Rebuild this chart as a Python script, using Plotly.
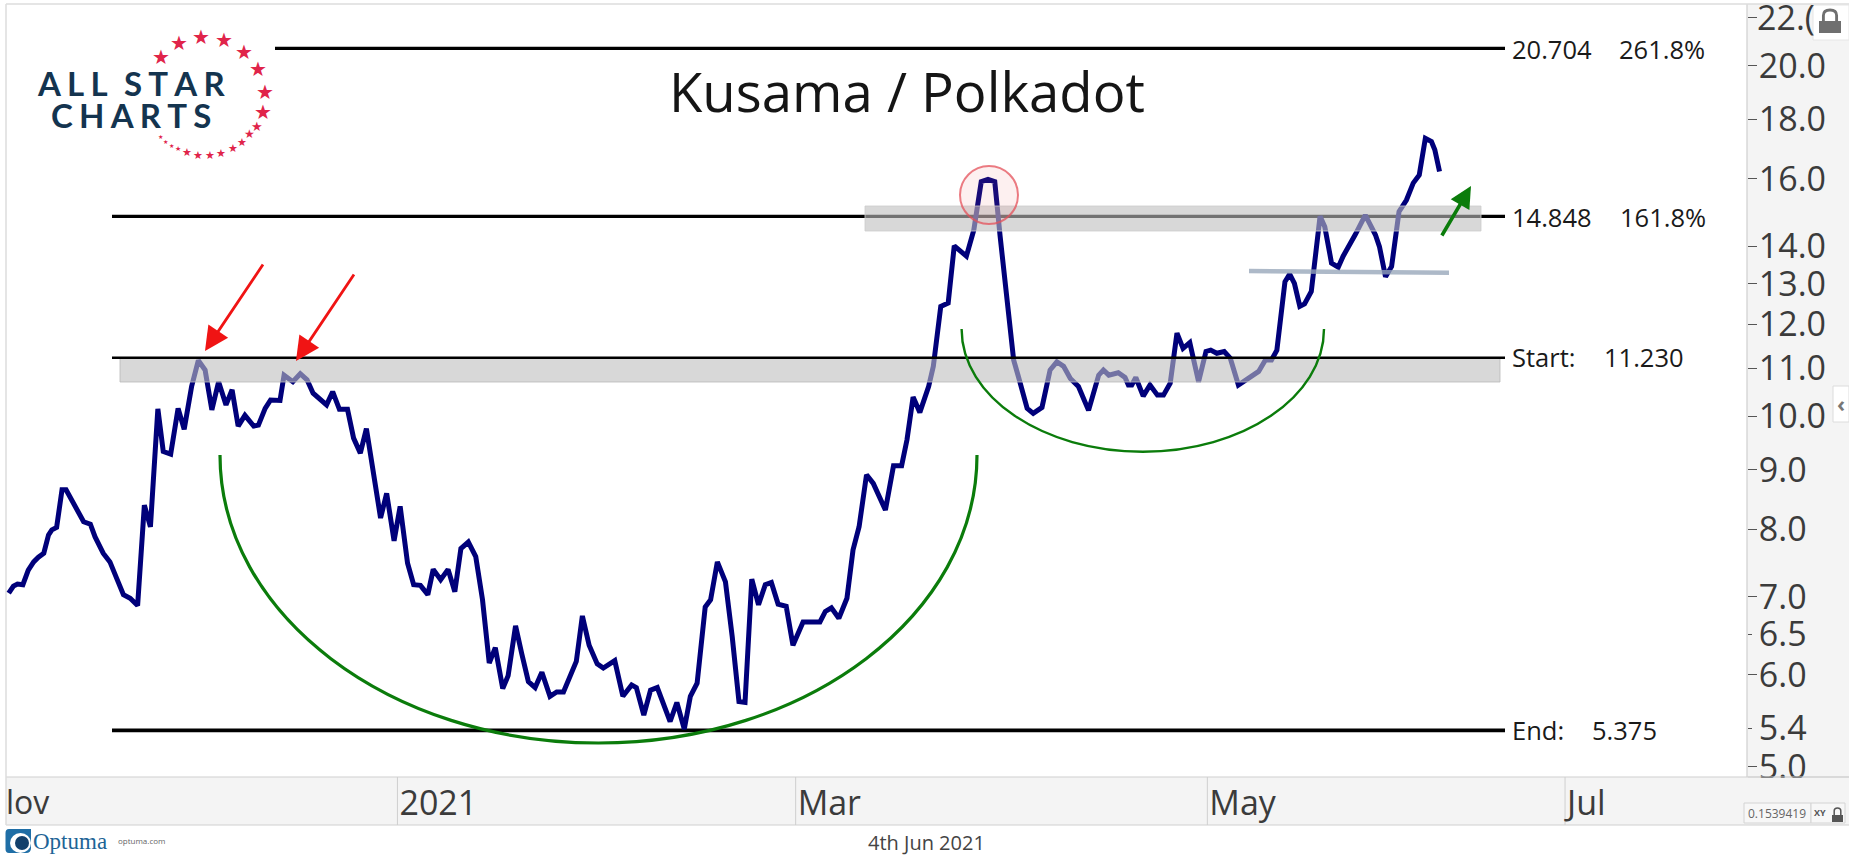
import pandas as pd
import plotly.graph_objects as go

# ---------- data ----------
DAY_OFFSET = [  # days from 1 Jan 2021
 -57.6,-56.9,-56.3,-55.5,-54.7,-53.9,-53.2,-52.4,-51.7,-51.2,-50.5,-49.7,-49.1,-48.3,-47.3,-46.5,-45.5,-44.8,-43.6,-42.6,-41.6,-40.6,-39.6,-38.5,-37.5,-36.6,-35.5,-34.7,-33.6,-32.5,-31.6,-30.5,-29.5,-28.5,-27.5,-26.5,-25.4,-24.5,-23.6,-22.6,-21.3,
 -20.6,-19.6,-18.8,-17.4,-16.8,-15.5,-14.4,-13.4,-12.5,-10.5,-9.6,-8.6,-7.4,-6.5,-5.5,-4.6,-3.5,-2.5,-1.6,-0.5,0.4,1.5,2.4,3.4,4.5,5.3,6.4,7.5,8.5,9.4,10.5,11.6,12.6,13.6,14.5,15.6,
 16.4,17.5,18.4,19.4,20.4,21.4,22.6,23.6,24.6,25.6,26.5,27.4,28.4,29.6,30.5,32.2,33.4,34.7,35.4,36.5,37.5,38.5,40.4,41.4,42.5,43.4,44.4,45.6,46.4,47.4,48.6,49.6,50.6,51.5,52.5,53.5,54.5,55.4,
 56.4,57.6,58.6,60.1,61.6,62.6,63.4,64.3,65.4,66.6,67.5,68.4,69.5,70.5,72.3,73.5,74.7,75.5,76.4,77.4,78.7,79.4,80.5,81.6,82.5,84.3,85.4,86.5,87.5,88.5,89.3,89.8,90.5,91.3,92.0,
 93.3,94.2,95.5,96.7,97.7,98.7,99.7,100.9,102.4,103.9,104.6,105.4,106.8,107.8,108.3,108.8,109.4,110.5,111.5,112.6,113.5,114.5,115.5,116.4,117.4,118.7,119.8,120.5,121.4,122.5,123.4,124.6,127.6,128.6,129.5,
 130.3,131.5,132.2,132.9,133.7,134.4,135.4,136.7,137.4,138.4,139.4,140.1,141.9,143.4,144.9,145.5,146.4,147.3,148.4,149.5,150.5,151.4,152.3,153.2,153.7,154.4]
RATIO = [
 7.05,7.15,7.18,7.17,7.38,7.5,7.57,7.63,7.91,7.99,8.03,8.65,8.65,8.49,8.28,8.12,8.08,7.88,7.63,7.5,7.26,7.03,6.98,6.88,8.39,8.04,10.15,9.33,9.28,10.16,9.75,10.61,11.17,10.96,10.13,10.71,10.23,10.54,9.81,10.02,9.81,
 9.83,10.16,10.33,10.32,10.85,10.71,10.88,10.75,10.47,10.23,10.5,10.14,10.14,9.58,9.3,9.76,8.94,8.18,8.59,7.82,8.37,7.48,7.17,7.16,7.03,7.39,7.24,7.39,7.07,7.7,7.8,7.58,6.96,6.14,6.33,5.84,
 5.99,6.61,6.26,5.92,5.85,6.03,5.75,5.8,5.8,5.98,6.16,6.74,6.36,6.13,6.08,6.17,5.75,5.88,5.85,5.54,5.82,5.85,5.47,5.68,5.39,5.75,5.9,6.86,6.96,7.5,7.21,6.47,5.69,5.68,7.25,6.89,7.17,7.2,
 6.9,6.87,6.36,6.66,6.66,6.66,6.8,6.85,6.71,6.98,7.68,8.04,8.91,8.76,8.31,9.07,9.07,9.55,10.39,10.08,10.61,11.04,12.43,12.51,14.01,13.73,14.46,15.91,15.98,15.91,14.27,13.36,12.43,11.18,10.82,
 10.16,10.06,10.18,10.96,11.14,11.04,10.78,10.61,10.12,10.85,10.96,10.85,10.9,10.8,10.64,10.64,10.8,10.41,10.64,10.43,10.43,10.68,11.79,11.44,11.57,10.71,11.37,11.4,11.33,11.37,11.22,10.64,10.93,11.18,11.18,
 11.4,13.05,13.25,13.01,12.43,12.49,12.8,14.85,14.55,13.54,13.43,13.72,14.32,14.89,14.32,13.99,13.18,13.45,14.99,15.34,15.86,16.12,17.33,17.22,16.94,16.23]
assert len(DAY_OFFSET) == len(RATIO)

Y_TICKS = [22, 20, 18, 16, 14, 13, 12, 11, 10, 9, 8, 7, 6.5, 6, 5.4, 5]
Y_SHORT = [6.5, 5.4]
X_TICKS = ["2021-01-01", "2021-03-01", "2021-05-01", "2021-07-01"]
X_LABELS = ["2021", "Mar", "May", "Jul"]
LEVEL_VALUES = [20.704, 14.848, 11.23, 5.375]
LEVEL_TEXT = ["20.704", "14.848", "Start:", "End:"]
LEVEL_TEXT2 = ["261.8%", "161.8%", "11.230", "5.375"]

# ---------- page geometry ----------
W, H = 1849, 855
L, R, T, B = 6, 1747, 4, 777
def px(x): return (x - L) / (R - L)
def py(y): return (B - y) / (B - T)

dates = pd.Timestamp("2021-01-01") + pd.to_timedelta(DAY_OFFSET, unit="D")
weekend = [d.strftime("%Y-%m-%d") for d in pd.date_range("2021-06-05", "2021-08-08") if d.weekday() >= 5]

NAVY = "#00007a"
GREEN = "#0b7c0b"
BAND = "#f4f4f4"
EDGE = "#cfcfcf"
TXT = "#3b3b3b"
FONT = "Open Sans"

shapes = []
def rect(x0, y0, x1, y1, fill, line=None, lw=1, layer="below"):
    shapes.append(dict(type="rect", xref="paper", yref="paper", x0=px(x0), x1=px(x1), y0=py(y0), y1=py(y1),
                       fillcolor=fill, line=dict(color=line or "rgba(0,0,0,0)", width=lw if line else 0), layer=layer))
def seg(x0, y0, x1, y1, color, lw=1, layer="below"):
    shapes.append(dict(type="line", xref="paper", yref="paper", x0=px(x0), x1=px(x1), y0=py(y0), y1=py(y1),
                       line=dict(color=color, width=lw), layer=layer))
def path(d, fill="rgba(0,0,0,0)", line=None, lw=0, layer="above"):
    shapes.append(dict(type="path", xref="paper", yref="paper", path=d, fillcolor=fill,
                       line=dict(color=line or "rgba(0,0,0,0)", width=lw), layer=layer))
def P(x, y): return f"{px(x):.6f} {py(y):.6f}"
def half_ellipse(x0, x1, ytop, ybot):
    k = 0.5523
    a = (x1 - x0) / 2; b = ybot - ytop; c = (x0 + x1) / 2
    return (f"M {P(x0,ytop)} C {P(x0,ytop+k*b)} {P(c-k*a,ybot)} {P(c,ybot)} "
            f"C {P(c+k*a,ybot)} {P(x1,ytop+k*b)} {P(x1,ytop)}")
def lock(x0, x1, ybody0, ybody1, ytop, color):
    w = x1 - x0; m = w * 0.2
    rect(x0, ybody0, x1, ybody1, color, layer="above")
    path(f"M {P(x0+m,ybody0)} L {P(x0+m,ytop+w*0.25)} Q {P(x0+m,ytop)} {P((x0+x1)/2,ytop)} "
         f"Q {P(x1-m,ytop)} {P(x1-m,ytop+w*0.25)} L {P(x1-m,ybody0)}", line=color, lw=max(1.5, w*0.13))

# axis bands and frame
rect(L, B, W, 825, BAND)
rect(R, T, W, 825, BAND)
seg(R, T, R, B, EDGE, 1.2)
seg(L, B, W, B, EDGE, 1.2)
seg(L, 825, W, 825, EDGE, 1.2)
seg(L, T, L, 825, "#dcdcdc", 1.5)
seg(L, T, W, T, "#dcdcdc", 1.5)
for t in X_TICKS:
    shapes.append(dict(type="line", xref="x", yref="paper", x0=t, x1=t, y0=0, y1=py(825),
                       line=dict(color=EDGE, width=1), layer="below"))

# fibonacci levels
LEVEL_LEFT = [275, 112, 112, 112]
LEVEL_WIDTH = [3.3, 3.3, 2.6, 3.6]
LEVEL_LAYER = ["below", "below", "above", "below"]
ZONE = "rgba(190,190,190,0.6)"
rect(120, 358.5, 1500, 382, ZONE, "rgba(185,185,185,0.8)", 1, "above")
rect(865, 206, 1481, 231, ZONE, "rgba(205,205,205,0.8)", 1, "above")
for v, x0, lw, lay in zip(LEVEL_VALUES, LEVEL_LEFT, LEVEL_WIDTH, LEVEL_LAYER):
    shapes.append(dict(type="line", xref="paper", yref="y", x0=px(x0), x1=px(1505), y0=v, y1=v,
                       line=dict(color="#000000", width=lw), layer=lay))

# marks
seg(1249, 271, 1449, 272.8, "rgba(150,165,185,0.78)", 4.5, "above")
shapes.append(dict(type="circle", xref="paper", yref="paper", x0=px(960), x1=px(1018), y0=py(166), y1=py(224),
                   fillcolor="rgba(240,110,110,0.10)", line=dict(color="rgba(228,80,90,0.75)", width=2), layer="above"))
path(half_ellipse(220, 977, 455, 743), line=GREEN, lw=3.2)
path(half_ellipse(961.6, 1324, 329, 451.7), line=GREEN, lw=2.4)

# covers for text clipped in the reference
rect(R + 1, B + 1, W, B + 7, BAND, layer="above")
seg(R + 1, B, W, B, EDGE, 1.2, "above")

# lock box top right
rect(1813, 5, W, 40, "#ffffff", "#e6e6e6", 1, "above")
lock(1819, 1841, 21, 33, 10, "#6f6f6f")
# collapse button
rect(1833, 386, W, 422, "#ffffff", "#dcdcdc", 1, "above")
# value box bottom right
rect(1744, 803, 1811, 823, "#f7f7f7", "#d4d4d4", 1, "above")
rect(1811, 803, 1845, 823, "#f7f7f7", "#d4d4d4", 1, "above")
lock(1832, 1843, 815, 822, 808, "#555555")

# Optuma icon
path(f"M {P(9,829)} L {P(31,829)} L {P(31,848)} Q {P(31,853)} {P(26,853)} L {P(9,853)} Q {P(5.5,853)} {P(5.5,849)} L {P(5.5,833)} Q {P(5.5,829)} {P(9,829)} Z",
     fill="#1f6ea6")
shapes.append(dict(type="circle", xref="paper", yref="paper", x0=px(10), x1=px(31), y0=py(833), y1=py(853),
                   fillcolor="#ffffff", line=dict(width=0), layer="above"))
shapes.append(dict(type="circle", xref="paper", yref="paper", x0=px(15), x1=px(29), y0=py(836), y1=py(850),
                   fillcolor="#13406b", line=dict(width=0), layer="above"))

ann = []
def text(x, y, s, size, color=TXT, anchor="left", family=FONT, yanchor="middle"):
    ann.append(dict(xref="paper", yref="paper", x=px(x), y=py(y), text=s, showarrow=False, xanchor=anchor, yanchor=yanchor,
                    font=dict(family=family, size=size, color=color), borderpad=0, borderwidth=0))
def arrow(tx, ty, hx, hy, color, lw, size):
    ann.append(dict(xref="paper", yref="paper", x=px(hx), y=py(hy), ax=tx - hx, ay=ty - hy, axref="pixel", ayref="pixel",
                    text="", showarrow=True, arrowhead=2, arrowsize=size, arrowwidth=lw, arrowcolor=color, standoff=0))

text(907, 91, "Kusama / Polkadot", 54.5, "#151515", "center")
text(926, 842, "4th Jun 2021", 20, "#444444", "center")
text(6, 801, "lov", 32)
text(1757, 17, "22.(", 34)   # the top tick label, cut by the lock box as in the reference
LEVEL_Y = [48.7, 216.7, 357, 730]
LEVEL_X2 = [1619, 1620, 1604, 1592]
for y, a, b, x2 in zip(LEVEL_Y, LEVEL_TEXT, LEVEL_TEXT2, LEVEL_X2):
    text(1512, y, a, 25.5, "#1a1a1a")
    text(x2, y, b, 25.5, "#1a1a1a")

arrow(264, 263, 205, 351, "#f01414", 2.8, 1.7)
arrow(355, 273, 296, 361, "#f01414", 2.8, 1.7)
arrow(1441, 237, 1471, 186, GREEN, 3.6, 1.2)

# logo
NB = "\u2009\u200a"
text(131, 83, NB.join("ALL") + "\u2002" + NB.join("STAR"), 33, "#14344f", "center", "Lato")
text(131, 115, NB.join("CHARTS"), 33, "#14344f", "center", "Lato")
ann[-1]["text"] = "<b>" + ann[-1]["text"] + "</b>"
ann[-2]["text"] = "<b>" + ann[-2]["text"] + "</b>"
STARS = [(201,37,20),(224,40,20),(244,52,20),(258,69,20),(265,92,20),(263,112,20),(257,126,13),(250,134,12),(242,143,11),
         (233,149,11),(221,153,11),(210,155,11),(198,155,11),(187,152,11),(178,149,7),(171,145,6),(165,141,6),(160,136,6),
         (179,43,20),(161,57,20)]
for x, y, s in STARS:
    text(x, y, "\u2605", s, "#e0244a", "center", "DejaVu Sans")

# gadgets text
text(1841, 403, "<b>\u2039</b>", 22, "#777777", "center")
text(1748, 813.5, "0.1539419", 12, "#666666")
text(1814, 812, "<b>XY</b>", 9, "#555555")
# Optuma
text(33, 841, "Optuma", 23, "#1d6496", "left", "Liberation Sans Narrow")
text(118, 840, "optuma.com", 8, "#666666")

fig = go.Figure(go.Scatter(x=dates, y=RATIO, mode="lines", line=dict(color=NAVY, width=5), hoverinfo="skip"))
fig.update_layout(
    width=W, height=H, autosize=False, showlegend=False,
    margin=dict(l=L, r=W - R, t=T, b=H - B, pad=0, autoexpand=False),
    paper_bgcolor="#ffffff", plot_bgcolor="#ffffff",
    shapes=shapes, annotations=ann,
    xaxis=dict(type="date", range=["2020-11-04", "2021-08-06 23:00"],
               rangebreaks=[dict(values=weekend, dvalue=86400000)],
               tickmode="array", tickvals=X_TICKS, ticktext=X_LABELS,
               ticks="", showgrid=False, zeroline=False, showline=False,
               ticklabelposition="outside right", ticklabelstandoff=3, ticklabelshift=2,
               tickfont=dict(family=FONT, size=34, color=TXT)),
    yaxis=dict(type="log", range=[0.69037, 1.35411], side="right",
               tickmode="array", tickvals=Y_TICKS, ticktext=["" if v == 22 else f"{v:.1f}" for v in Y_TICKS],
               ticks="outside", ticklen=4, tickwidth=1, tickcolor="#555555",
               ticklabelstandoff=0,
               minor=dict(ticks="outside", ticklen=9, tickwidth=1, tickcolor="#555555", tickmode="array",
                          tickvals=[v for v in Y_TICKS if v not in Y_SHORT], showgrid=False),
               showgrid=False, zeroline=False, showline=False,
               tickfont=dict(family=FONT, size=34, color=TXT)),
)
fig.write_html("out.html", config={"displayModeBar": False},
               post_script="document.body.style.margin='0';document.body.style.overflow='hidden';")
